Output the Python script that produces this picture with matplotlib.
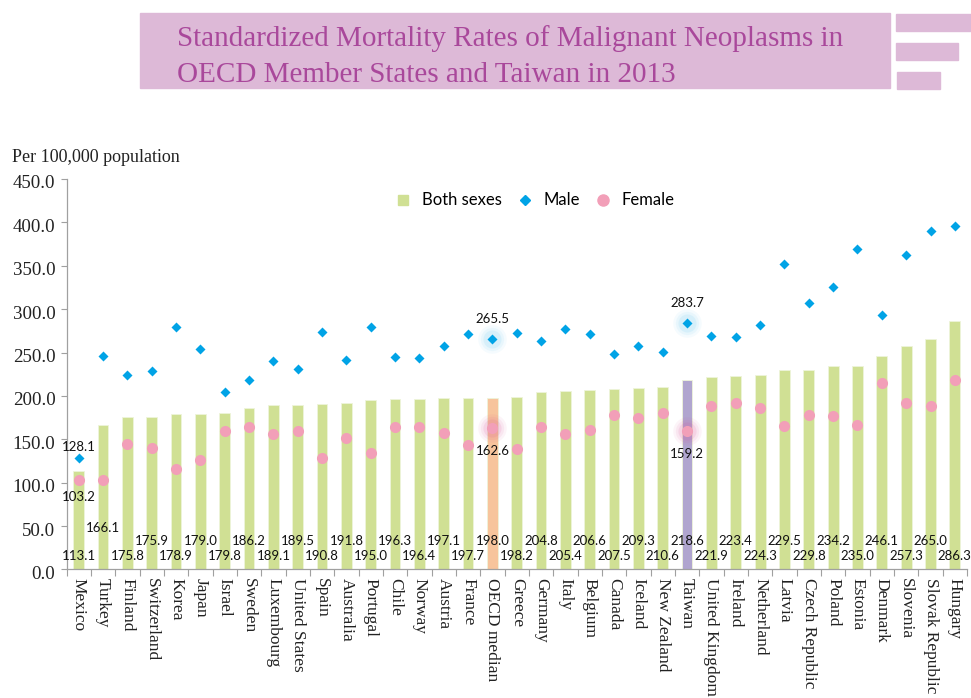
import matplotlib
matplotlib.use("Agg")
import matplotlib.pyplot as plt
from matplotlib.patches import Rectangle
from matplotlib.lines import Line2D
import numpy as np

countries = ["Mexico", "Turkey", "Finland", "Switzerland", "Korea", "Japan", "Israel",
             "Sweden", "Luxembourg", "United States", "Spain", "Australia", "Portugal",
             "Chile", "Norway", "Austria", "France", "OECD median", "Greece", "Germany",
             "Italy", "Belgium", "Canada", "Iceland", "New Zealand", "Taiwan",
             "United Kingdom", "Ireland", "Netherland", "Latvia", "Czech Republic",
             "Poland", "Estonia", "Denmark", "Slovenia", "Slovak Republic", "Hungary"]

both = [113.1, 166.1, 175.8, 175.9, 178.9, 179.0, 179.8, 186.2, 189.1, 189.5, 190.8,
        191.8, 195.0, 196.3, 196.4, 197.1, 197.7, 198.0, 198.2, 204.8, 205.4, 206.6,
        207.5, 209.3, 210.6, 218.6, 221.9, 223.4, 224.3, 229.5, 229.8, 234.2, 235.0,
        246.1, 257.3, 265.0, 286.3]

male = [128.1, 246.3, 224.1, 228.3, 279.7, 254.0, 204.8, 218.7, 240.6, 230.6, 273.3,
        241.0, 279.7, 244.8, 243.7, 257.1, 271.7, 265.5, 272.8, 263.6, 277.1, 271.3,
        248.6, 257.8, 250.9, 283.7, 268.7, 267.9, 281.3, 352.0, 307.4, 325.8, 369.3,
        293.6, 362.7, 390.4, 395.5]

female = [103.2, 103.4, 144.5, 139.5, 115.7, 125.7, 159.9, 164.5, 155.7, 159.9, 128.8,
          151.8, 133.8, 163.8, 164.1, 156.8, 143.0, 162.6, 138.4, 163.8, 155.7, 160.3,
          177.6, 174.5, 179.9, 159.2, 188.3, 191.4, 185.7, 165.6, 177.6, 176.8, 166.8,
          214.5, 192.1, 188.0, 218.0]

yticks = np.arange(0, 451, 50)

GREEN = "#D0E094"
ORANGE = "#F7C49C"
PURPLE = "#B0A5CF"
BLUE = "#00A3E6"
PINK = "#F29FB8"
SERIF = "Liberation Serif"
SANS = "Lato"

fig = plt.figure(figsize=(9.71, 6.98), dpi=100)
fig.patch.set_facecolor("white")

# title banner and decorations
fig.patches.append(Rectangle((140 / 971, 1 - 88 / 698), 750 / 971, 75 / 698,
                             transform=fig.transFigure, color="#DDB9D7", zorder=0))
for x0, y0, w, h in [(896, 14, 75, 17), (896, 43, 62, 17), (897, 72, 43, 17)]:
    fig.patches.append(Rectangle((x0 / 971, 1 - (y0 + h) / 698), w / 971, h / 698,
                                 transform=fig.transFigure, color="#DDB9D7", zorder=0))
fig.text(177 / 971, 1 - 46.5 / 698, "Standardized Mortality Rates of Malignant Neoplasms in",
         fontsize=21, family=SERIF, color="#A9489B", va="baseline", ha="left")
fig.text(177 / 971, 1 - 82 / 698, "OECD Member States and Taiwan in 2013",
         fontsize=21, family=SERIF, color="#A9489B", va="baseline", ha="left")
fig.text(12 / 971, 1 - 158 / 698, "Per 100,000 population", fontsize=13,
         family=SERIF, color="#222222", va="center", ha="left")

ax = fig.add_axes([0.0685, 0.1842, 0.9274, 0.5594])
x = np.arange(len(countries))

colors = [GREEN] * len(countries)
colors[countries.index("OECD median")] = ORANGE
colors[countries.index("Taiwan")] = PURPLE
ax.bar(x, both, width=0.44, color=colors, edgecolor="#EEF4DA", linewidth=0.6, zorder=2)

# glow around highlighted markers
for name in ["OECD median", "Taiwan"]:
    i = countries.index(name)
    for s, a in [(420, 0.06), (280, 0.08), (170, 0.12)]:
        ax.scatter(i, male[i], s=s, color="#5BC3F0", alpha=a, lw=0, zorder=3)
        ax.scatter(i, female[i], s=s, color="#D94A95", alpha=a, lw=0, zorder=3)

ax.plot(x, male, "D", color=BLUE, ms=5.6, mec="none", zorder=4)
ax.plot(x, female, "o", color=PINK, ms=8, mec="none", zorder=4)

# bar value labels, alternating rows
for i, v in enumerate(both):
    yv = 14.9 if i % 2 == 0 else 32.8
    if countries[i] == "Turkey":
        yv = 47.7
    ax.text(i, yv, f"{v:.1f}", ha="center", va="center", fontsize=9.5, family=SANS,
            color="#111111", zorder=5)

# male / female labels for the highlighted countries
for name, up, down in [("Mexico", 8, 12), ("OECD median", 14.5, 16), ("Taiwan", 14.5, 16)]:
    i = countries.index(name)
    ax.annotate(f"{male[i]:.1f}", (i, male[i]), xytext=(0, up), textcoords="offset points",
                ha="center", va="center", fontsize=9.5, family=SANS, color="#111111", zorder=5)
    ax.annotate(f"{female[i]:.1f}", (i, female[i]), xytext=(0, -down), textcoords="offset points",
                ha="center", va="center", fontsize=9.5, family=SANS, color="#111111", zorder=5)

ax.set_xlim(-0.5, len(countries) - 0.5)
ax.set_ylim(0, 450)
ax.set_yticks(yticks)
ax.set_yticklabels([])
# y labels sit a little below their ticks, as in the original
for t in yticks:
    ax.annotate(f"{t:.1f}", (0, t), xycoords=("axes fraction", "data"),
                xytext=(-8, -3.6), textcoords="offset points", ha="right", va="center",
                fontsize=13.6, family=SERIF, color="#222222", annotation_clip=False)
ax.set_xticks(x)
ax.set_xticklabels(countries, rotation=-90, fontsize=12.5, family=SERIF,
                   color="#222222", va="top", ha="center")
ax.set_xticks(np.arange(-0.5, len(countries), 1), minor=True)
ax.tick_params(axis="x", which="major", length=0, pad=6)
ax.tick_params(axis="x", which="minor", length=5, color="#A0A0A0", width=0.8)
ax.tick_params(axis="y", length=4, color="#A0A0A0", width=0.8, pad=4)
for side in ["top", "right"]:
    ax.spines[side].set_visible(False)
for side in ["left", "bottom"]:
    ax.spines[side].set_color("#A0A0A0")
    ax.spines[side].set_linewidth(0.9)

handles = [
    Line2D([], [], marker="s", ls="none", color=GREEN, ms=7),
    Line2D([], [], marker="D", ls="none", color=BLUE, ms=5.5),
    Line2D([], [], marker="o", ls="none", color=PINK, ms=8),
]
leg = ax.legend(handles, ["Both sexes", "Male", "Female"], loc="center",
                bbox_to_anchor=(0.52, 0.945), ncol=3, frameon=False,
                prop={"family": SANS, "size": 12}, handletextpad=0.6,
                columnspacing=0.9, handlelength=1.0)

fig.savefig("out.png", dpi=100)
